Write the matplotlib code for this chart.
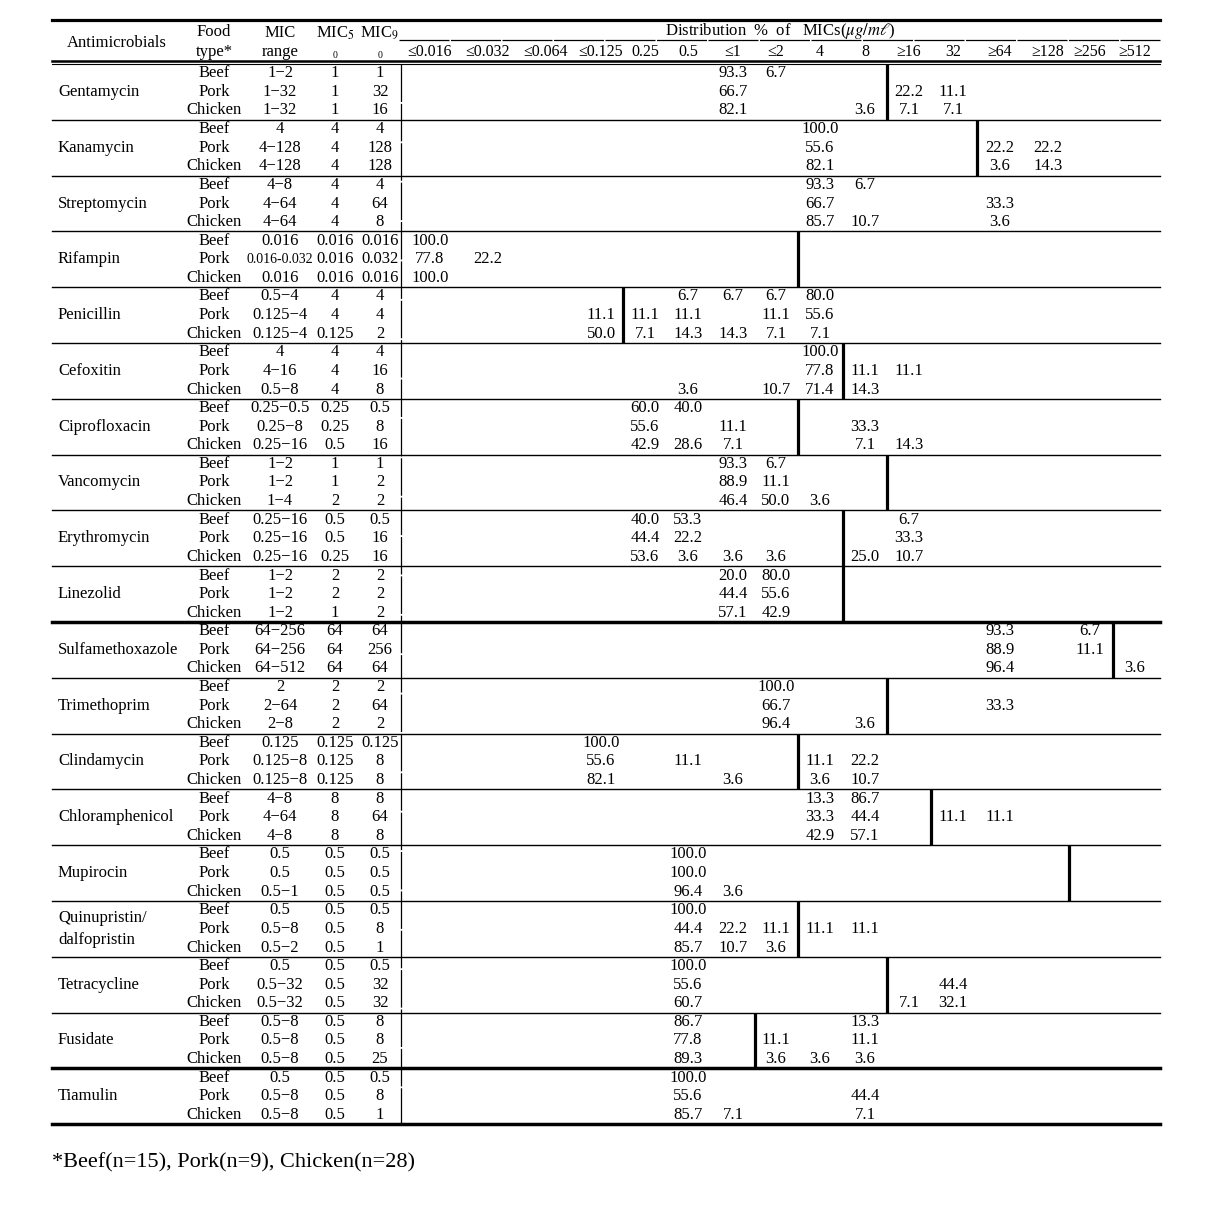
import matplotlib.pyplot as plt

plt.rcParams['font.family'] = ['Liberation Serif', 'DejaVu Serif']
plt.rcParams['mathtext.fontset'] = 'stix'

drugs = ['Gentamycin', 'Kanamycin', 'Streptomycin', 'Rifampin', 'Penicillin',
         'Cefoxitin', 'Ciprofloxacin', 'Vancomycin', 'Erythromycin', 'Linezolid',
         'Sulfamethoxazole', 'Trimethoprim', 'Clindamycin', 'Chloramphenicol',
         'Mupirocin', 'Quinupristin/\ndalfopristin', 'Tetracycline', 'Fusidate', 'Tiamulin']
foods = ['Beef', 'Pork', 'Chicken']

mic_range = [
    ['1−2', '1−32', '1−32'], ['4', '4−128', '4−128'], ['4−8', '4−64', '4−64'],
    ['0.016', '0.016-0.032', '0.016'], ['0.5−4', '0.125−4', '0.125−4'],
    ['4', '4−16', '0.5−8'], ['0.25−0.5', '0.25−8', '0.25−16'], ['1−2', '1−2', '1−4'],
    ['0.25−16', '0.25−16', '0.25−16'], ['1−2', '1−2', '1−2'],
    ['64−256', '64−256', '64−512'], ['2', '2−64', '2−8'], ['0.125', '0.125−8', '0.125−8'],
    ['4−8', '4−64', '4−8'], ['0.5', '0.5', '0.5−1'], ['0.5', '0.5−8', '0.5−2'],
    ['0.5', '0.5−32', '0.5−32'], ['0.5−8', '0.5−8', '0.5−8'], ['0.5', '0.5−8', '0.5−8']]
mic50 = [
    ['1', '1', '1'], ['4', '4', '4'], ['4', '4', '4'], ['0.016', '0.016', '0.016'],
    ['4', '4', '0.125'], ['4', '4', '4'], ['0.25', '0.25', '0.5'], ['1', '1', '2'],
    ['0.5', '0.5', '0.25'], ['2', '2', '1'], ['64', '64', '64'], ['2', '2', '2'],
    ['0.125', '0.125', '0.125'], ['8', '8', '8'], ['0.5', '0.5', '0.5'],
    ['0.5', '0.5', '0.5'], ['0.5', '0.5', '0.5'], ['0.5', '0.5', '0.5'], ['0.5', '0.5', '0.5']]
mic90 = [
    ['1', '32', '16'], ['4', '128', '128'], ['4', '64', '8'], ['0.016', '0.032', '0.016'],
    ['4', '4', '2'], ['4', '16', '8'], ['0.5', '8', '16'], ['1', '2', '2'],
    ['0.5', '16', '16'], ['2', '2', '2'], ['64', '256', '64'], ['2', '64', '2'],
    ['0.125', '8', '8'], ['8', '64', '8'], ['0.5', '0.5', '0.5'], ['0.5', '8', '1'],
    ['0.5', '32', '32'], ['8', '8', '25'], ['0.5', '8', '1']]

mic_cols = ['≤0.016', '≤0.032', '≤0.064', '≤0.125', '0.25', '0.5', '≤1', '≤2',
            '4', '8', '≥16', '32', '≥64', '≥128', '≥256', '≥512']

# % of isolates at each MIC, per food type (Beef, Pork, Chicken)
dist = [
    [{'≤1': '93.3', '≤2': '6.7'}, {'≤1': '66.7', '≥16': '22.2', '32': '11.1'},
     {'≤1': '82.1', '8': '3.6', '≥16': '7.1', '32': '7.1'}],
    [{'4': '100.0'}, {'4': '55.6', '≥64': '22.2', '≥128': '22.2'},
     {'4': '82.1', '≥64': '3.6', '≥128': '14.3'}],
    [{'4': '93.3', '8': '6.7'}, {'4': '66.7', '≥64': '33.3'},
     {'4': '85.7', '8': '10.7', '≥64': '3.6'}],
    [{'≤0.016': '100.0'}, {'≤0.016': '77.8', '≤0.032': '22.2'}, {'≤0.016': '100.0'}],
    [{'0.5': '6.7', '≤1': '6.7', '≤2': '6.7', '4': '80.0'},
     {'≤0.125': '11.1', '0.25': '11.1', '0.5': '11.1', '≤2': '11.1', '4': '55.6'},
     {'≤0.125': '50.0', '0.25': '7.1', '0.5': '14.3', '≤1': '14.3', '≤2': '7.1', '4': '7.1'}],
    [{'4': '100.0'}, {'4': '77.8', '8': '11.1', '≥16': '11.1'},
     {'0.5': '3.6', '≤2': '10.7', '4': '71.4', '8': '14.3'}],
    [{'0.25': '60.0', '0.5': '40.0'}, {'0.25': '55.6', '≤1': '11.1', '8': '33.3'},
     {'0.25': '42.9', '0.5': '28.6', '≤1': '7.1', '8': '7.1', '≥16': '14.3'}],
    [{'≤1': '93.3', '≤2': '6.7'}, {'≤1': '88.9', '≤2': '11.1'},
     {'≤1': '46.4', '≤2': '50.0', '4': '3.6'}],
    [{'0.25': '40.0', '0.5': '53.3', '≥16': '6.7'}, {'0.25': '44.4', '0.5': '22.2', '≥16': '33.3'},
     {'0.25': '53.6', '0.5': '3.6', '≤1': '3.6', '≤2': '3.6', '8': '25.0', '≥16': '10.7'}],
    [{'≤1': '20.0', '≤2': '80.0'}, {'≤1': '44.4', '≤2': '55.6'}, {'≤1': '57.1', '≤2': '42.9'}],
    [{'≥64': '93.3', '≥256': '6.7'}, {'≥64': '88.9', '≥256': '11.1'},
     {'≥64': '96.4', '≥512': '3.6'}],
    [{'≤2': '100.0'}, {'≤2': '66.7', '≥64': '33.3'}, {'≤2': '96.4', '8': '3.6'}],
    [{'≤0.125': '100.0'}, {'≤0.125': '55.6', '0.5': '11.1', '4': '11.1', '8': '22.2'},
     {'≤0.125': '82.1', '≤1': '3.6', '4': '3.6', '8': '10.7'}],
    [{'4': '13.3', '8': '86.7'}, {'4': '33.3', '8': '44.4', '32': '11.1', '≥64': '11.1'},
     {'4': '42.9', '8': '57.1'}],
    [{'0.5': '100.0'}, {'0.5': '100.0'}, {'0.5': '96.4', '≤1': '3.6'}],
    [{'0.5': '100.0'}, {'0.5': '44.4', '≤1': '22.2', '≤2': '11.1', '4': '11.1', '8': '11.1'},
     {'0.5': '85.7', '≤1': '10.7', '≤2': '3.6'}],
    [{'0.5': '100.0'}, {'0.5': '55.6', '32': '44.4'}, {'0.5': '60.7', '≥16': '7.1', '32': '32.1'}],
    [{'0.5': '86.7', '8': '13.3'}, {'0.5': '77.8', '≤2': '11.1', '8': '11.1'},
     {'0.5': '89.3', '≤2': '3.6', '4': '3.6', '8': '3.6'}],
    [{'0.5': '100.0'}, {'0.5': '55.6', '8': '44.4'}, {'0.5': '85.7', '≤1': '7.1', '8': '7.1'}],
]

# breakpoint: thick line drawn right of this MIC column
cut = ['8', '32', None, '≤2', '≤0.125', '4', '≤2', '8', '4', '4',
       '≥256', '8', '≤2', '≥16', '≥128', '≤2', '8', '≤1', None]
thick_after = ['Linezolid', 'Fusidate']

# layout (pixels)
W, H = 1211, 1209
left, right = 52, 1160
col_x = [430, 488, 546, 601, 645, 688, 733, 776, 820, 865, 909, 953, 1000, 1048, 1090, 1135]
x_name, x_food, x_range, x_50, x_90, x_div = 58, 214, 280, 335, 380, 401
top_body, block_h, row_h = 64, 55.8, 18.6
fs = 12

fig = plt.figure(figsize=(W / 100, H / 100), dpi=100)
ax = fig.add_axes([0, 0, 1, 1])
ax.set_xlim(0, W)
ax.set_ylim(H, 0)
ax.axis('off')

# header
ax.plot([left, right], [20, 20], color='black', lw=2.3)
ax.text(117, 43, 'Antimicrobials', ha='center', va='center', fontsize=fs)
ax.text(x_food, 32, 'Food', ha='center', va='center', fontsize=fs)
ax.text(x_food, 52, 'type*', ha='center', va='center', fontsize=fs)
ax.text(x_range, 33, 'MIC', ha='center', va='center', fontsize=fs)
ax.text(x_range, 52, 'range', ha='center', va='center', fontsize=fs)
for x, d in [(x_50, '5'), (x_90, '9')]:
    ax.text(x, 33, 'MIC$_{%s}$' % d, ha='center', va='center', fontsize=fs)
    ax.text(x, 55, '0', ha='center', va='center', fontsize=7)
ax.text(780, 31, r'Distribution  %  of   MICs($\mu g/m\ell$)', ha='center', va='center', fontsize=fs)
ax.plot([x_div - 2, right], [40, 40], color='black', lw=0.9, linestyle=(0, (40, 1.2)))
for x, lab in zip(col_x, mic_cols):
    ax.text(x, 52, lab, ha='center', va='center', fontsize=fs - 0.5)
ax.plot([left, right], [60.5, 60.5], color='black', lw=1.8)
ax.plot([left, right], [64, 64], color='black', lw=0.8)

# body
for i, drug in enumerate(drugs):
    top = top_body + i * block_h
    bot = top + block_h
    ax.text(x_name, top + block_h / 2, drug, ha='left', va='center', fontsize=fs, linespacing=1.5)
    for j, food in enumerate(foods):
        y = top + row_h / 2 + j * row_h
        ax.text(x_food, y, food, ha='center', va='center', fontsize=fs)
        rng = mic_range[i][j]
        ax.text(x_range, y, rng, ha='center', va='center',
                fontsize=10 if len(rng) > 8 else fs)
        ax.text(x_50, y, mic50[i][j], ha='center', va='center', fontsize=fs)
        ax.text(x_90, y, mic90[i][j], ha='center', va='center', fontsize=fs)
        for lab, v in dist[i][j].items():
            ax.text(col_x[mic_cols.index(lab)], y, v, ha='center', va='center', fontsize=fs)
    if cut[i] is not None:
        k = mic_cols.index(cut[i])
        xc = (col_x[k] + col_x[k + 1]) / 2
        ax.plot([xc, xc], [top, bot], color='black', lw=2.3, solid_capstyle='butt')
    if i < len(drugs) - 1:
        lw = 2.5 if drug in thick_after else 1.0
        ax.plot([left, right], [bot, bot], color='black', lw=lw)

bottom = top_body + len(drugs) * block_h
ax.plot([left, right], [bottom, bottom], color='black', lw=2.5)
ax.plot([x_div, x_div], [top_body, bottom], color='black', lw=0.9, linestyle=(0, (30, 1.5)))

ax.text(left, 1163, '*Beef(n=15), Pork(n=9), Chicken(n=28)', ha='left', va='center', fontsize=16)

fig.savefig('out.png', dpi=100)
